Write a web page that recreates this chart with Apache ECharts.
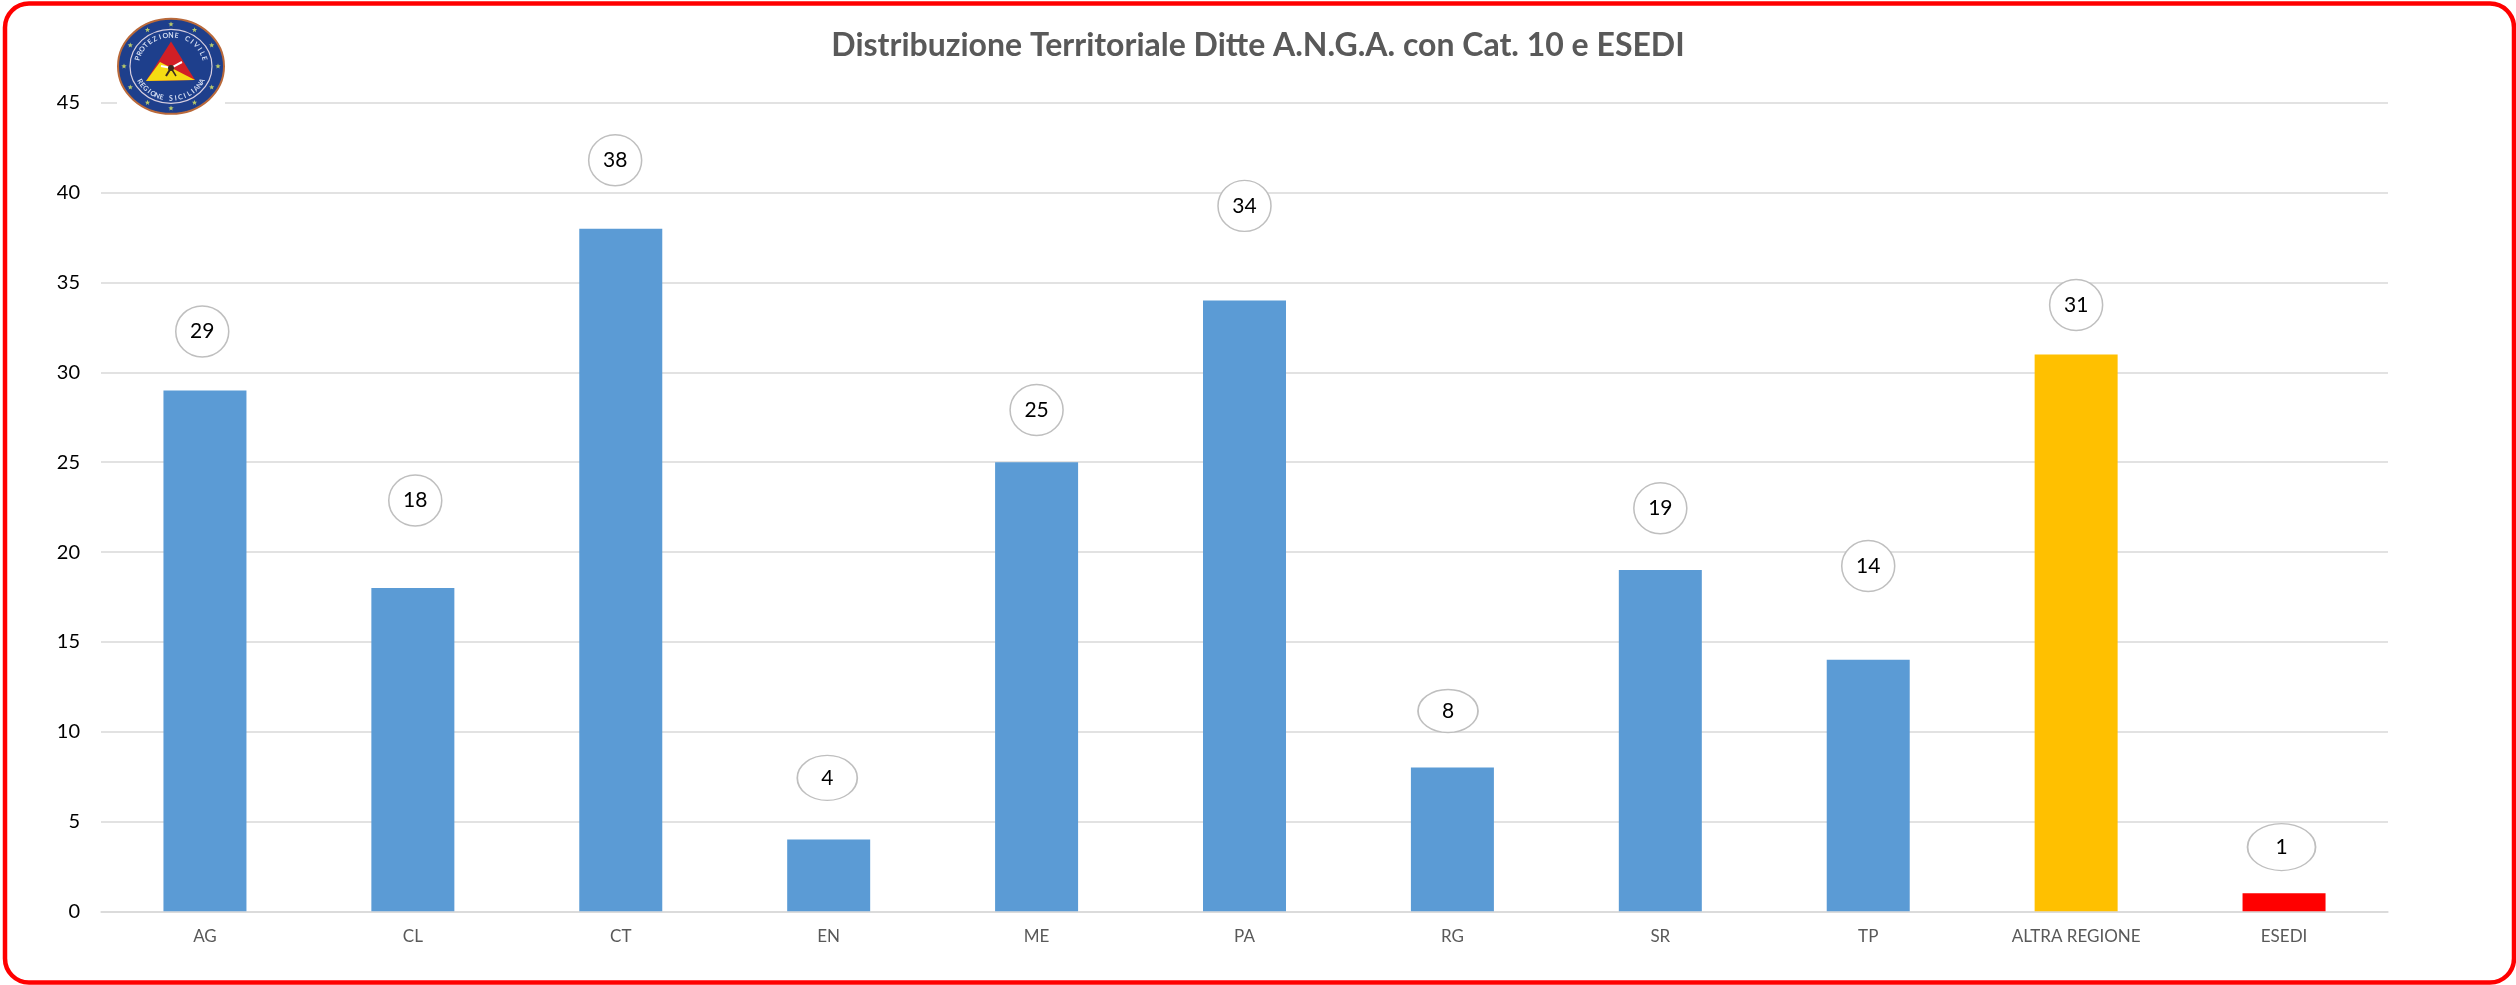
<!DOCTYPE html>
<html>
<head>
  <meta charset="utf-8">
  <title>Distribuzione Territoriale Ditte A.N.G.A.</title>
  <style>
    html, body { margin: 0; padding: 0; background: #fff; }
    #chart { width: 2516px; height: 985px; }
  </style>
</head>
<body>
<div id="chart"></div>
<script src="https://cdn.jsdelivr.net/npm/echarts@6/dist/echarts.min.js"></script>
<script>
  var categories = ['AG', 'CL', 'CT', 'EN', 'ME', 'PA', 'RG', 'SR', 'TP', 'ALTRA REGIONE', 'ESEDI'];
  var values = [29, 18, 38, 4, 25, 34, 8, 19, 14, 31, 1];
  var titleText = 'Distribuzione Territoriale Ditte A.N.G.A. con Cat. 10 e ESEDI';

  var blue = '#5B9BD5', amber = '#FFC000', red = '#FF0000';
  var barColors = [blue, blue, blue, blue, blue, blue, blue, blue, blue, amber, red];

  // i fumetti sono stati spostati a mano nell'originale: [dx, dy, larghezza, altezza]
  var bubbles = [
    [-2.7, -59, 53, 51], [2.4, -87.5, 53, 51], [-5.6, -68.5, 53, 51], [-1.4, -61.5, 60, 45],
    [0, -52.3, 53, 51], [0, -94.7, 53, 51], [-4.4, -56.6, 60, 43], [0, -61.7, 53, 51],
    [0, -93.9, 53, 51], [0, -49.5, 53, 51], [-2.5, -46.3, 68, 47]
  ];

  var fontFamily = 'Lato, "Open Sans", sans-serif';

  // logo Protezione Civile disegnato con elementi graphic
  function arcLetters(text, cx, cy, rx, ry, from, to, bottom) {
    var out = [];
    for (var i = 0; i < text.length; i++) {
      var a = (from + (to - from) * i / (text.length - 1)) * Math.PI / 180;
      out.push({
        type: 'text', x: cx + rx * Math.cos(a), y: cy + ry * Math.sin(a),
        rotation: bottom ? -(a - Math.PI / 2) : -(a + Math.PI / 2), z: 13,
        style: {
          text: text.charAt(i), fill: '#D5DEF2', font: 'bold 7px ' + fontFamily,
          align: 'center', verticalAlign: 'middle'
        }
      });
    }
    return out;
  }

  function star(cx, cy, r) {
    var pts = [];
    for (var i = 0; i < 10; i++) {
      var a = -Math.PI / 2 + i * Math.PI / 5, k = i % 2 ? r * 0.42 : r;
      pts.push([cx + k * Math.cos(a), cy + k * Math.sin(a)]);
    }
    return {type: 'polygon', z: 13, shape: {points: pts}, style: {fill: '#B7C96A'}};
  }

  function buildLogo() {
    var cx = 171, cy = 66.3;
    var items = [
      {type: 'rect', z: 10, shape: {x: 117, y: 18, width: 108, height: 97}, style: {fill: '#fff'}},
      {type: 'ellipse', z: 11, shape: {cx: cx, cy: cy, rx: 53, ry: 47.5}, style: {fill: '#1E3F8C', stroke: '#B9693A', lineWidth: 2}},
      {type: 'ellipse', z: 12, shape: {cx: cx, cy: cy, rx: 41, ry: 37}, style: {fill: '#1E3F8C', stroke: '#D8CFE0', lineWidth: 1.2}},
      {type: 'polygon', z: 13, shape: {points: [[171, 41.5], [195, 80], [146, 81]]}, style: {fill: '#D21F26'}},
      {type: 'polygon', z: 14, shape: {points: [[146, 81], [160, 62], [195, 80]]}, style: {fill: '#F5DC12'}},
      {type: 'polyline', z: 15, shape: {points: [[161, 66], [171, 68], [182, 62]]}, style: {stroke: '#fff', lineWidth: 2, fill: null}},
      {type: 'polyline', z: 15, shape: {points: [[171, 68], [166, 76]]}, style: {stroke: '#3A2A20', lineWidth: 2, fill: null}},
      {type: 'polyline', z: 15, shape: {points: [[171, 68], [176, 76]]}, style: {stroke: '#3A2A20', lineWidth: 1.5, fill: null}},
      {type: 'circle', z: 16, shape: {cx: 171, cy: 68, r: 3}, style: {fill: '#3A2A20'}}
    ];
    for (var i = 0; i < 12; i++) {
      var a = i * Math.PI / 6;
      items.push(star(cx + 47 * Math.cos(a), cy + 42 * Math.sin(a), 2.8));
    }
    items = items.concat(arcLetters('PROTEZIONE CIVILE', cx, cy, 34.5, 31, -165, -15, false));
    items = items.concat(arcLetters('REGIONE SICILIANA', cx, cy, 35, 32, 152, 28, true));
    return items;
  }

  var chart = echarts.init(document.getElementById('chart'), null, {renderer: 'canvas'});

  chart.setOption({
    animation: false,
    backgroundColor: '#fff',
    title: {
      text: titleText,
      left: 'center',
      top: 25,
      textStyle: {fontFamily: fontFamily, fontSize: 32, fontWeight: 'bold', color: '#595959'}
    },
    grid: {left: 101, right: 128, top: 103, bottom: 73.7},
    xAxis: {
      type: 'category',
      data: categories,
      axisTick: {show: false},
      axisLine: {lineStyle: {color: '#D9D9D9', width: 1.5}},
      axisLabel: {interval: 0, margin: 17, color: '#595959', fontFamily: fontFamily, fontSize: 17}
    },
    yAxis: {
      type: 'value',
      min: 0,
      max: 45,
      interval: 5,
      axisLine: {show: false},
      axisTick: {show: false},
      splitLine: {lineStyle: {color: '#D9D9D9', width: 1.5}},
      axisLabel: {margin: 21, color: '#000', fontFamily: fontFamily, fontSize: 20}
    },
    graphic: [{
      type: 'rect', z: 20,
      shape: {x: 5, y: 3.5, width: 2509, height: 979, r: 24},
      style: {fill: null, stroke: red, lineWidth: 4.5}
    }].concat(buildLogo()),
    series: [
      {
        type: 'bar',
        barWidth: 83,
        data: values.map(function (v, i) {
          return {value: v, itemStyle: {color: barColors[i]}};
        })
      },
      {
        type: 'scatter',
        z: 5,
        data: values.map(function (v, i) {
          var b = bubbles[i];
          return {value: [i, v], symbolOffset: [b[0], b[1]], symbolSize: [b[2], b[3]]};
        }),
        symbol: 'circle',
        itemStyle: {color: '#fff', borderColor: '#BFBFBF', borderWidth: 1.5, opacity: 1},
        label: {
          show: true,
          position: 'inside',
          formatter: function (p) { return p.value[1]; },
          color: '#000',
          fontFamily: fontFamily,
          fontSize: 21
        }
      }
    ]
  });
</script>
</body>
</html>
